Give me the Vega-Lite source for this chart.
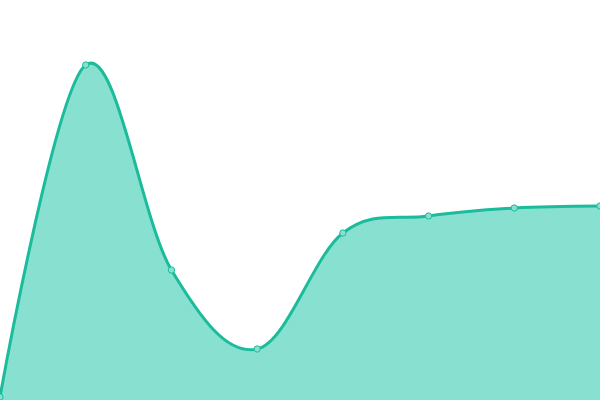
{
  "$schema": "https://vega.github.io/schema/vega-lite/v6.json",
  "width": 600,
  "height": 400,
  "autosize": {"type": "none"},
  "padding": 0,
  "background": "white",
  "config": {"view": {"stroke": null}},
  "data": {"values": [
    {"x": 0, "y": 0.75},
    {"x": 1, "y": 83.75},
    {"x": 2, "y": 32.5},
    {"x": 3, "y": 12.75},
    {"x": 4, "y": 41.75},
    {"x": 5, "y": 46},
    {"x": 6, "y": 48},
    {"x": 7, "y": 48.5}
  ]},
  "encoding": {
    "x": {"field": "x", "type": "quantitative", "scale": {"domain": [0, 7], "nice": false, "zero": false}, "axis": null},
    "y": {"field": "y", "type": "quantitative", "scale": {"domain": [0, 100], "nice": false}, "axis": null}
  },
  "layer": [
    {"mark": {"type": "area", "interpolate": "cardinal", "tension": -0.05, "color": "#88e0d0", "opacity": 1}},
    {"mark": {"type": "line", "interpolate": "cardinal", "tension": -0.05, "color": "#1abc9c", "strokeWidth": 3}},
    {"mark": {"type": "point", "filled": true, "fill": "#88e0d0", "stroke": "#1abc9c", "strokeWidth": 1, "size": 40, "opacity": 1}}
  ]
}
